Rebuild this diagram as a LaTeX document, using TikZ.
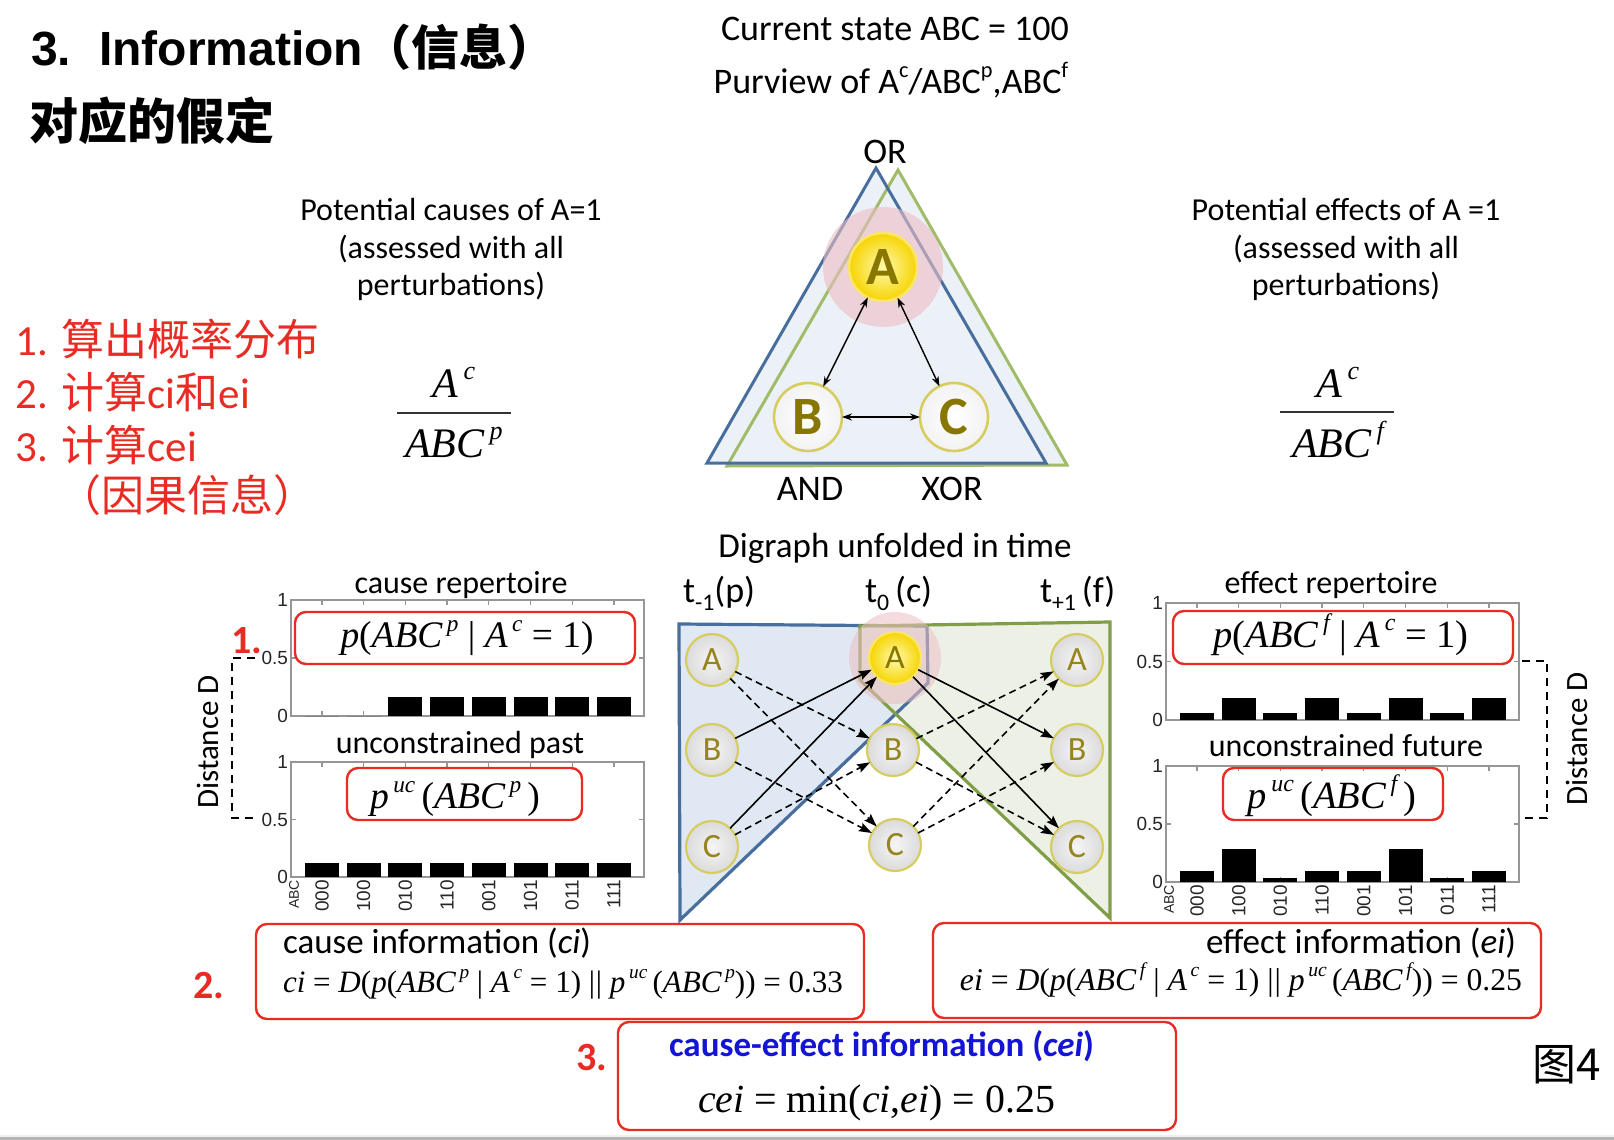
\documentclass[tikz,border=0pt]{standalone}
\usepackage{fontspec}
\usepackage{graphicx}
\setmainfont{Carlito}
\newfontfamily\tms{Liberation Serif}
\newfontfamily\ars{Liberation Sans}
\newfontfamily\cjk{Noto Sans CJK SC}
\usetikzlibrary{arrows.meta}
\definecolor{redc}{RGB}{232,44,36}
\definecolor{bluel}{RGB}{72,110,158}
\definecolor{greenl}{RGB}{160,188,104}
\definecolor{greenp}{RGB}{128,158,72}
\definecolor{trif}{RGB}{236,241,247}
\definecolor{bluef}{RGB}{224,233,243}
\definecolor{greenf}{RGB}{231,237,221}
\definecolor{pinkc}{RGB}{236,190,196}
\definecolor{olivec}{RGB}{135,118,0}
\definecolor{oliven}{RGB}{150,132,30}
\definecolor{nodeb}{RGB}{214,204,96}
\definecolor{yelin}{RGB}{255,250,175}
\definecolor{yelout}{RGB}{246,212,0}
\definecolor{framec}{RGB}{150,150,150}
\definecolor{ceiblue}{RGB}{20,20,215}
\definecolor{bandc}{RGB}{182,182,182}

\newcommand\fsz[1]{\fontsize{#1}{#1}\selectfont}
\newcommand\supx[1]{\raisebox{0.42em}{\scalebox{0.62}{#1}}}
\newcommand\supi[1]{\kern0.12em\raisebox{0.42em}{\scalebox{0.62}{#1}}}
\newcommand\subx[1]{\raisebox{-0.24em}{\scalebox{0.66}{#1}}}

% bar chart: #1 prefix, #2 left x, #3 top y, #4 bottom y, #5 values
\newcommand\barchart[5]{%
  \draw[chframe] (#2,#3) rectangle (#2+353,#4);
  \foreach \v [count=\i] in {#5} {
    \pgfmathsetmacro\cx{#2+31+(\i-1)*41.7}
    \draw[chframe] (\cx,#3) -- ++(0,5);
    \draw[chframe] (\cx,#4) -- ++(0,-5);
    \fill (\cx-17,#4) rectangle (\cx+17,{#4-\v*(#4-#3)});
  }
  \foreach \tv/\lab [count=\j] in {0/0,0.5/0.5,1/1} {
    \pgfmathsetmacro\ty{#4-\tv*(#4-#3)}
    \draw[chframe] (#2,\ty) -- ++(5,0);
    \draw[chframe] (#2+353,\ty) -- ++(-5,0);
    \node[ticklab] (#1y\j) at (#2-3,\ty) {\lab};
  }
}
% x labels: #1 prefix, #2 left x, #3 bottom y
\newcommand\xlabels[3]{%
  \node[xlab, font=\ars\fsz{14}] (#1abc) at (#2+3,#3+3) {ABC};
  \foreach \lb [count=\i] in {000,100,010,110,001,101,011,111} {
    \pgfmathsetmacro\cx{#2+31+(\i-1)*41.7}
    \node[xlab] (#1x\i) at (\cx,#3+3) {\lb};
  }
}

\begin{document}
\begin{tikzpicture}[x=1pt,y=-1pt,
  every node/.style={inner sep=0pt, outer sep=0pt},
  txt/.style={anchor=base, font=\fsz{32}},
  chframe/.style={draw=framec, line width=1.3pt},
  ticklab/.style={anchor=east, font=\ars\fsz{19}, text=black!85},
  xlab/.style={rotate=90, anchor=east, font=\ars\fsz{19}, text=black!85},
  redbox/.style={draw=redc, line width=2.4pt, rounded corners=11pt},
  redlbl/.style={anchor=base west, font=\fsz{40}\bfseries, text=redc},
  redlist/.style={anchor=base west, font=\fsz{43}, text=redc},
  dbr/.style={draw=black, line width=2pt, dash pattern=on 8pt off 6pt},
  triblue/.style={draw=bluel, line width=3pt, line join=miter},
  trigreen/.style={draw=greenl, line width=3pt, line join=miter},
  tnode/.style={circle, minimum size=68pt, draw=nodeb, line width=2.6pt, font=\fsz{54}\bfseries, text=olivec},
  tarr/.style={draw=black, line width=1.4pt, {Stealth[length=10pt,width=7pt]}-{Stealth[length=10pt,width=7pt]}},
  dnode/.style={circle, minimum size=52pt, draw=nodeb, line width=2.2pt, inner color=gray!8, outer color=gray!28, text=oliven, font=\fsz{34}},
  darr/.style={draw=black, line width=1.6pt, -{Stealth[length=13pt,width=9pt,inset=2pt]}},
  darrd/.style={darr, dash pattern=on 7pt off 4.5pt},
  form/.style={font=\tms\fsz{40}}
]
\useasboundingbox (0,0) rectangle (1614,1140);
\fill[white] (0,0) rectangle (1614,1140);
\fill[bandc] (0,1137) rectangle (1614,1140);
\fill[black!6] (0,1134.5) rectangle (1614,1137);

% ---------- title ----------
\node[anchor=base west, font=\ars\bfseries\fsz{48}] (title) at (31,66) {3.\hspace{28pt}Information{\cjk\bfseries（信息）}};
\node[anchor=base west, font=\cjk\bfseries\fsz{49}] (title2) at (29,139) {对应的假定};

% ---------- red list ----------
\node[redlist] (r1) at (16,355) {1. {\cjk 算出概率分布}};
\node[redlist] (r2) at (16,408) {2. {\cjk 计算}ci{\cjk 和}ei};
\node[redlist] (r3) at (16,461) {3. {\cjk 计算}cei};
\node[redlist, font=\cjk\fsz{43}] (r4) at (58,511) {（因果信息）};

% ---------- top texts ----------
\node[txt, font=\fsz{36}] (cur) at (895,41) {Current state ABC = 100};
\node[txt, font=\fsz{36}] (purv) at (891,93) {Purview of A\supx{c}/ABC\supx{p},ABC\supx{f}};

\node[txt] (pc1) at (451,220) {Potential causes of A=1};
\node[txt] (pc2) at (451,258) {(assessed with all};
\node[txt] (pc3) at (451,295) {perturbations)};
\node[txt] (pe1) at (1346,220) {Potential effects of A =1};
\node[txt] (pe2) at (1346,258) {(assessed with all};
\node[txt] (pe3) at (1346,295) {perturbations)};

% fractions
\node[anchor=base, font=\tms\itshape\fsz{42}] (fnL) at (454,397) {A\supi{c}};
\draw[line width=1.8pt, black!80] (397,413) -- (511,413);
\node[anchor=base, font=\tms\itshape\fsz{42}] (fdL) at (454,457) {ABC\supi{p}};
\node[anchor=base, font=\tms\itshape\fsz{42}] (fnR) at (1338,397) {A\supi{c}};
\draw[line width=1.8pt, black!80] (1280,412) -- (1394,412);
\node[anchor=base, font=\tms\itshape\fsz{42}] (fdR) at (1338,457) {ABC\supi{f}};

% ---------- top triangle ----------
\fill[trif] (876,168) -- (707,463) -- (1046,463) -- cycle;
\fill[trif] (898,170) -- (727,466) -- (1067,465) -- cycle;
\draw[trigreen] (898,170) -- (727,466) -- (1067,465) -- cycle;
\draw[triblue] (876,168) -- (707,463) -- (1046,463) -- cycle;
\fill[pinkc, opacity=0.6] (883,267) circle (60);
\node[tnode, inner color=yelin, outer color=yelout, draw=yelout!60!white] (TA) at (883,267) {A};
\node[tnode, inner color=white, outer color=gray!10] (TB) at (808,417) {B};
\node[tnode, inner color=white, outer color=gray!10] (TC) at (954,417) {C};
\draw[tarr] (TA) -- (TB);
\draw[tarr] (TA) -- (TC);
\draw[tarr] (TB) -- (TC);
\node[txt, font=\fsz{36}] (orl) at (885,163) {OR};
\node[txt, font=\fsz{36}] (andl) at (810,500) {AND};
\node[txt, font=\fsz{36}] (xorl) at (952,500) {XOR};

% ---------- digraph ----------
\node[txt, font=\fsz{35}] (dig) at (895,557) {Digraph unfolded in time};
\node[anchor=base west, font=\fsz{36}] (tm1) at (683,602) {t\subx{-1}(p)};
\node[anchor=base west, font=\fsz{36}] (tz) at (865,602) {t\subx{0}\,(c)};
\node[anchor=base west, font=\fsz{36}] (tp1) at (1040,602) {t\subx{+1}\,(f)};

\fill[bluef] (679,624) -- (927,626) -- (928,683) -- (680,920) -- cycle;
\fill[greenf, opacity=0.75] (860,626) -- (1110,622) -- (1110,918) -- (860,680) -- cycle;
\draw[draw=bluel, line width=3.2pt, line join=miter] (679,624) -- (927,626) -- (928,683) -- (680,920) -- cycle;
\draw[draw=greenp, line width=3.2pt, line join=miter] (860,626) -- (1110,622) -- (1110,918) -- (860,680) -- cycle;
\fill[pinkc, opacity=0.55] (895,658) circle (46);

\node[dnode] (L1) at (712,660) {A};
\node[dnode] (L2) at (712,750) {B};
\node[dnode] (L3) at (712,847) {C};
\node[dnode, inner color=yelin, outer color=yelout, draw=yelout!60!white, text=olivec] (C1) at (895,658) {A};
\node[dnode] (C2) at (893,750) {B};
\node[dnode] (C3) at (895,845) {C};
\node[dnode] (R1) at (1077,660) {A};
\node[dnode] (R2) at (1077,750) {B};
\node[dnode] (R3) at (1077,847) {C};

\draw[darr] (L2) -- (C1);
\draw[darr] (L3) -- (C1);
\draw[darr] (C1) -- (R2);
\draw[darr] (C1) -- (R3);
\draw[darrd] (L1) -- (C2);
\draw[darrd] (L1) -- (C3);
\draw[darrd] (L2) -- (C3);
\draw[darrd] (L3) -- (C2);
\draw[darrd] (C2) -- (R1);
\draw[darrd] (C2) -- (R3);
\draw[darrd] (C3) -- (R1);
\draw[darrd] (C3) -- (R2);

% ---------- left charts ----------
\node[txt] (crt) at (461,593) {cause repertoire};
\barchart{lt}{291}{600}{716}{0,0,0.1667,0.1667,0.1667,0.1667,0.1667,0.1667}
\node[txt] (upt) at (460,753) {unconstrained past};
\barchart{lb}{291}{762}{877}{0.125,0.125,0.125,0.125,0.125,0.125,0.125,0.125}
\xlabels{lb}{291}{877}

\draw[redbox] (295,612) rectangle (635,664);
\node[anchor=base, form] (f1) at (467,647) {\resizebox{253pt}{!}{\itshape p\upshape(\itshape ABC\supi{p}\upshape\ |\ \itshape A\supi{c}\upshape\ = 1)}};
\draw[redbox] (347,768) rectangle (582,820);
\node[anchor=base, form] (f2) at (455,808) {\resizebox{170pt}{!}{\itshape p\supi{uc}\upshape\,(\itshape ABC\supi{p}\upshape\,)}};

\node[redlbl] (n1) at (231,653) {1.};
\draw[dbr] (255,658) -- (232,658) -- (232,818) -- (255,818);
\node[rotate=90, font=\fsz{31}] (dl) at (208,742) {Distance D};

% ---------- right charts ----------
\node[txt] (ert) at (1331,593) {effect repertoire};
\barchart{rt}{1166}{603}{720}{0.0625,0.1875,0.0625,0.1875,0.0625,0.1875,0.0625,0.1875}
\node[txt] (uft) at (1346,756) {unconstrained future};
\barchart{rb}{1166}{766}{882}{0.09375,0.28125,0.03125,0.09375,0.09375,0.28125,0.03125,0.09375}
\xlabels{rb}{1166}{882}

\draw[redbox] (1173,611) rectangle (1513,664);
\node[anchor=base, form] (f3) at (1341,647) {\resizebox{255pt}{!}{\itshape p\upshape(\itshape ABC\supi{f}\upshape\ |\ \itshape A\supi{c}\upshape\ = 1)}};
\draw[redbox] (1223,768) rectangle (1443,820);
\node[anchor=base, form] (f4) at (1332,808) {\resizebox{169pt}{!}{\itshape p\supi{uc}\upshape\,(\itshape ABC\supi{f}\upshape\,)}};

\draw[dbr] (1522,661) -- (1547,661) -- (1547,818) -- (1522,818);
\node[rotate=90, font=\fsz{31}] (dr) at (1577,739) {Distance D};

% ---------- bottom boxes ----------
\draw[redbox] (256,924) rectangle (864,1019);
\node[anchor=base west, font=\fsz{35}] (cit) at (283,953) {cause information (\textit{ci})};
\node[anchor=base west, form] (cif) at (283,992) {\resizebox{560pt}{!}{\itshape ci \upshape= \itshape D\upshape(\itshape p\upshape(\itshape ABC\supi{p}\upshape\ |\ \itshape A\supi{c}\upshape\ = 1) |\kern1pt| \itshape p\supi{uc}\upshape\,(\itshape ABC\supi{p}\upshape)) = 0.33}};
\node[redlbl] (n2) at (193,998) {2.};

\draw[redbox] (933,923) rectangle (1541,1018);
\node[anchor=base east, font=\fsz{35}] (eit) at (1516,953) {effect information (\textit{ei})};
\node[anchor=base east, form] (eif) at (1522,990) {\resizebox{562pt}{!}{\itshape ei \upshape= \itshape D\upshape(\itshape p\upshape(\itshape ABC\supi{f}\upshape\ |\ \itshape A\supi{c}\upshape\ = 1) |\kern1pt| \itshape p\supi{uc}\upshape\,(\itshape ABC\supi{f}\upshape)) = 0.25}};

\draw[redbox] (618,1022) rectangle (1176,1130);
\node[anchor=base west, font=\fsz{35}\bfseries, text=ceiblue] (ceit) at (669,1056) {cause-effect information (\textit{cei})};
\node[anchor=base west, form] (ceif) at (698,1112) {\resizebox{357pt}{!}{\itshape cei \upshape= min(\itshape ci\upshape,\itshape ei\upshape) = 0.25}};
\node[redlbl] (n3) at (576,1070) {3.};

\node[anchor=base west, font=\cjk\fsz{44}] (fig4) at (1532,1080) {图4};
\end{tikzpicture}
\end{document}
